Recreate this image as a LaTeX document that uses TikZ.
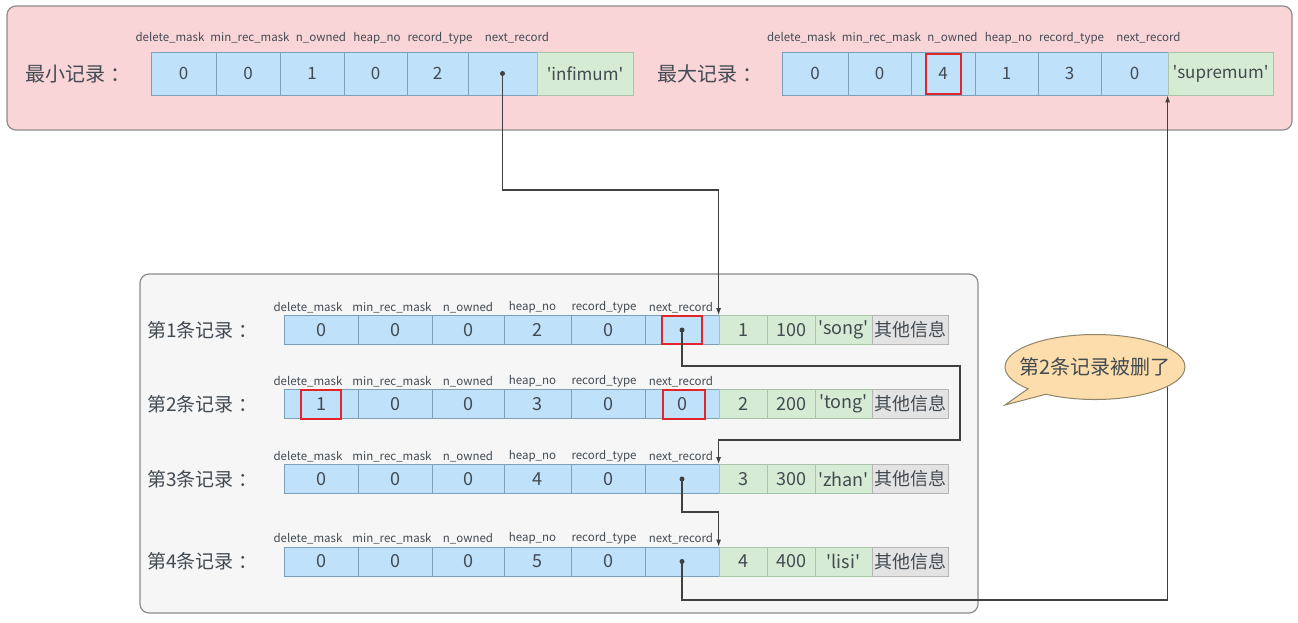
\documentclass[tikz,border=0pt]{standalone}
\usepackage{fontspec}
\setmainfont{Noto Sans CJK SC}
\usepackage{xcolor}
\usepackage{tikz}
\usetikzlibrary{shapes.geometric, shapes.callouts, arrows.meta, positioning, calc}
\definecolor{toppink}{HTML}{F9D5D8}
\definecolor{panelgray}{HTML}{F6F6F6}
\definecolor{panelline}{HTML}{8C8C8C}
\definecolor{fieldblue}{HTML}{BFE1FA}
\definecolor{fieldline}{HTML}{7C9FBA}
\definecolor{datagreen}{HTML}{D5EBD3}
\definecolor{dataline}{HTML}{A8C5A5}
\definecolor{extragray}{HTML}{E3E3E3}
\definecolor{extraline}{HTML}{B5B5B5}
\definecolor{markred}{HTML}{E0262B}
\definecolor{linkgray}{HTML}{404040}
\definecolor{textdark}{HTML}{424a52}
\definecolor{notefill}{HTML}{FCDDAB}
\definecolor{noteline}{HTML}{8E8468}
\newcommand{\sqt}[1]{\textquotesingle #1\textquotesingle}
\tikzstyle{panel} = [rounded corners=9pt, draw=panelline, line width=1.2pt]
\tikzstyle{field} = [rectangle, draw=fieldline, fill=fieldblue, line width=0.8pt, minimum height=29pt, inner sep=0pt, text=textdark, font=\fontsize{18}{18}\selectfont]
\tikzstyle{datafield} = [field, draw=dataline, fill=datagreen]
\tikzstyle{extrafield} = [field, draw=extraline, fill=extragray]
\tikzstyle{topfield} = [minimum height=43pt, font=\fontsize{17}{17}\selectfont]
\tikzstyle{header} = [inner sep=1pt, text=textdark, font=\fontsize{11.5}{12}\selectfont]
\tikzstyle{rowlabel} = [anchor=west, inner sep=0pt, text=textdark, font=\fontsize{19}{19}\selectfont]
\tikzstyle{redbox} = [rectangle, draw=markred, line width=2pt, inner sep=0pt]
\tikzstyle{arrow} = [line width=1.1pt, draw=linkgray, -{Latex[length=7pt, width=5pt]}]
\tikzstyle{note} = [ellipse callout, draw=noteline, fill=notefill, line width=1pt, text=textdark, font=\fontsize{20}{20}\selectfont, inner xsep=-17pt, inner ysep=0pt, minimum width=180pt, minimum height=65pt]

\begin{document}
\begin{tikzpicture}[x=1pt, y=-1pt]
    \useasboundingbox (0,0) rectangle (1298,622);
    \draw[panel, fill=toppink] (7,6) rectangle (1292,130);
    \draw[panel, fill=panelgray] (140,274) rectangle (978,613);

    % infimum and supremum
    \node[rowlabel, font=\fontsize{20}{20}\selectfont] (minlabel) at (25,74) {最小记录\hspace{0.25em}：};
    \node[rowlabel, font=\fontsize{20}{20}\selectfont] (maxlabel) at (657,74) {最大记录\hspace{0.25em}：};
    \foreach \i/\cx/\w/\v in {1/183.5/65/0, 2/248/64/0, 3/312/64/1, 4/375.5/63/0, 5/437.5/61/2, 6/502.5/69/{}}
        \node[field, topfield, minimum width=\w pt] (min\i) at (\cx,73.5) {\v};
    \node[datafield, topfield, minimum width=96pt] (min7) at (585,73.5) {\sqt{infimum}};
    \foreach \i/\cx/\w/\v in {1/815/66/0, 2/879.5/63/0, 3/943/64/4, 4/1006.5/63/1, 5/1069.5/63/3, 6/1134.5/67/0}
        \node[field, topfield, minimum width=\w pt] (max\i) at (\cx,73.5) {\v};
    \node[datafield, topfield, minimum width=105pt] (max7) at (1220.5,73.5) {\sqt{supremum}};
    \foreach \i/\hx/\htext in {1/170/delete\_mask, 2/250/min\_rec\_mask, 3/321/n\_owned, 4/377/heap\_no, 5/440/record\_type, 6/517/next\_record} {
        \node[header] (minh\i) at (\hx,38) {\htext};
        \node[header] (maxh\i) at (\hx+631.5,38) {\htext};
    }

    % user records
    \foreach \row/\y/\va/\vd/\vf/\vg/\vh/\vi in {1/330/0/2/{}/1/100/song, 2/404/1/3/0/2/200/tong, 3/479/0/4/{}/3/300/zhan, 4/561.5/0/5/{}/4/400/lisi} {
        \node[rowlabel] (lab\row) at (147,\y) {第\row 条记录\hspace{0.25em}：};
        \node[field, minimum width=74pt] (r\row c1) at (321,\y) {\va};
        \node[field, minimum width=74pt] (r\row c2) at (395,\y) {0};
        \node[field, minimum width=72pt] (r\row c3) at (468,\y) {0};
        \node[field, minimum width=67pt] (r\row c4) at (537.5,\y) {\vd};
        \node[field, minimum width=74pt] (r\row c5) at (608,\y) {0};
        \node[field, minimum width=74pt] (r\row c6) at (682,\y) {\vf};
        \node[datafield, minimum width=48pt] (r\row c7) at (743,\y) {\vg};
        \node[datafield, minimum width=48pt] (r\row c8) at (791,\y) {\vh};
        \node[datafield, minimum width=57pt] (r\row c9) at (843.5,\y) {\sqt{\vi}};
        \node[extrafield, minimum width=76pt] (r\row c10) at (910,\y) {其他信息};
        \foreach \c/\dx/\htext in {1/-13/delete\_mask, 2/-3/min\_rec\_mask, 3/0/n\_owned, 4/-5/heap\_no, 5/-4/record\_type, 6/-1/next\_record}
            \node[header, above=1pt of r\row c\c, xshift=\dx pt] (h\row c\c) {\htext};
    }

    % changed fields
    \node[redbox, minimum width=35pt, minimum height=40pt] (hl1) at (max3) {};
    \node[redbox, minimum width=40pt, minimum height=28pt] (hl2) at (r1c6) {};
    \node[redbox, minimum width=40pt, minimum height=29pt] (hl3) at (r2c1) {};
    \node[redbox, minimum width=42pt, minimum height=29pt] (hl4) at ([xshift=2pt]r2c6.center) {};

    % next_record links
    \foreach \p in {min6, r1c6, r3c6, r4c6}
        \fill[linkgray] (\p.center) circle (2.5pt);
    \draw[arrow] (min6.center) -- ++(0,116.5) -| (r1c7.north west);
    \draw[arrow] (r1c6.center) -- ++(0,36) -| (960,440) -| (r3c7.north west);
    \draw[arrow] (r3c6.center) -- ++(0,33) -| (r4c7.north west);
    \draw[arrow] (r4c6.center) -- ++(0,38.5) -| (max7.south west);

    \node[note, callout absolute pointer={(1005,405)}] (deleted) at (1095,367) {第2条记录被删了};
\end{tikzpicture}
\end{document}
